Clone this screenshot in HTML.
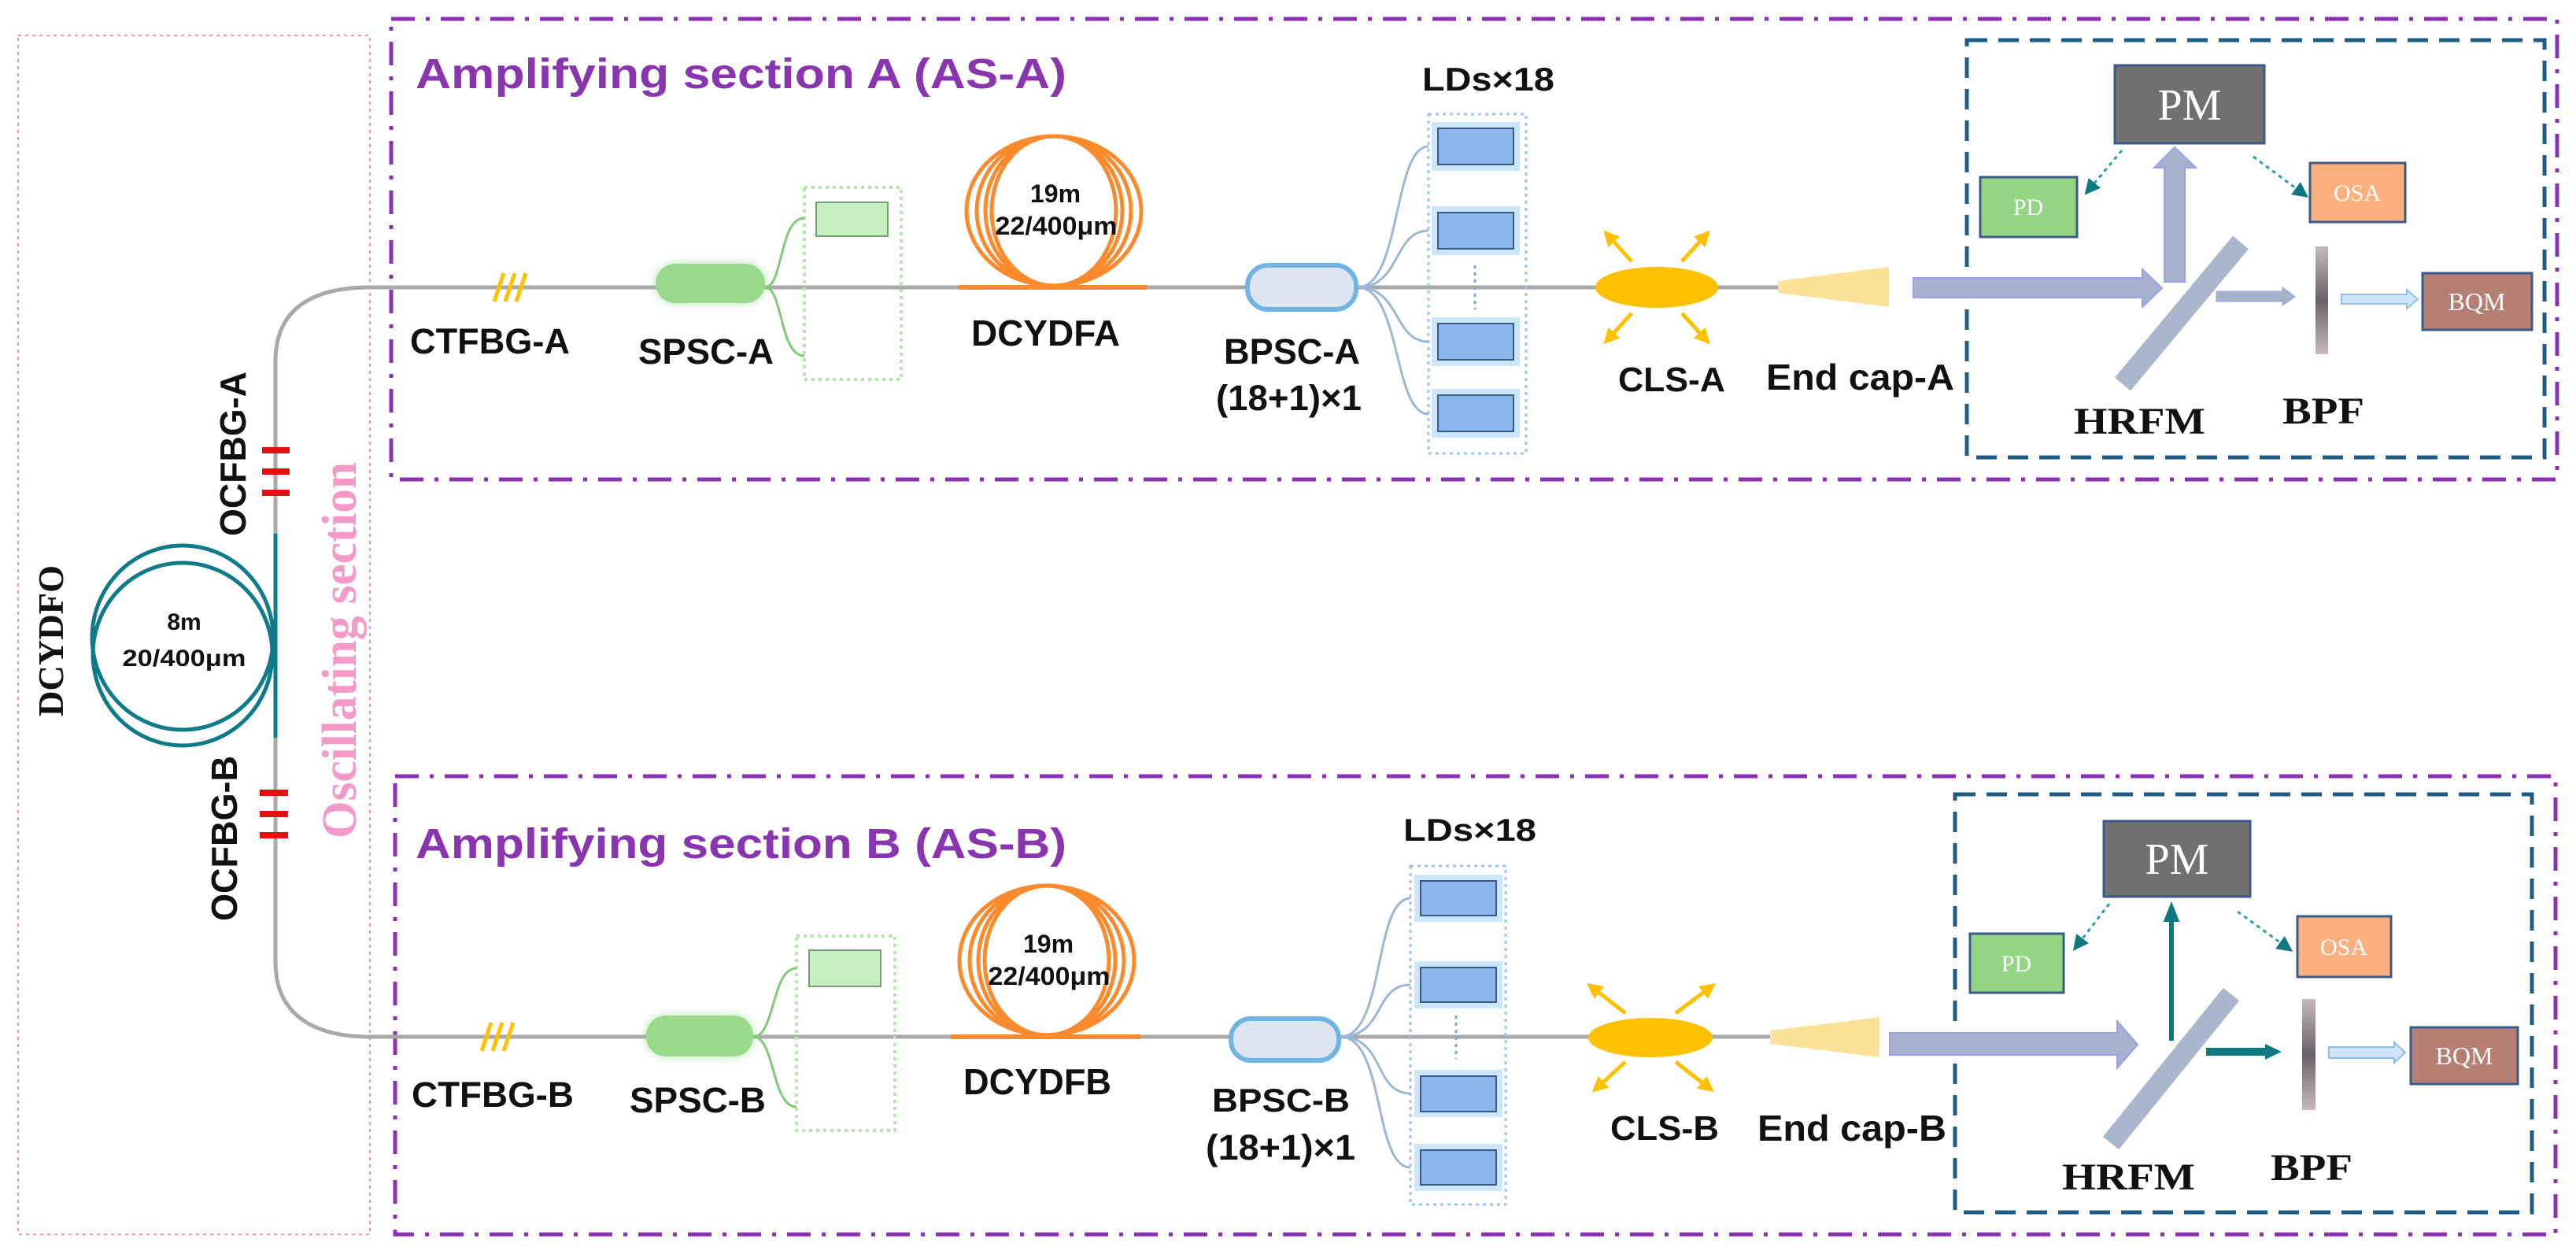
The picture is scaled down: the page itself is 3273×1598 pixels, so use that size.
<!DOCTYPE html>
<html><head><meta charset="utf-8"><style>
html,body{margin:0;padding:0;background:#fff;}
svg{display:block;}
.sb{font-family:"Liberation Sans",sans-serif;font-weight:bold;}
.sf{font-family:"Liberation Serif",serif;}
</style></head><body>
<svg width="3273" height="1598" viewBox="0 0 3273 1598" xmlns="http://www.w3.org/2000/svg">
<defs>
<marker id="ya" viewBox="0 0 10 10" refX="5" refY="5" markerWidth="4" markerHeight="4" orient="auto"><path d="M0,0 L10,5 L0,10 z" fill="#ffc000"/></marker>
<marker id="ta" viewBox="0 0 10 10" refX="5" refY="5" markerUnits="userSpaceOnUse" markerWidth="20" markerHeight="20" orient="auto"><path d="M0,0 L10,5 L0,10 z" fill="#0e7a80"/></marker>
<marker id="tb" viewBox="0 0 10 10" refX="5" refY="5" markerUnits="userSpaceOnUse" markerWidth="26" markerHeight="26" orient="auto"><path d="M0,1 L10,5 L0,9 z" fill="#0e7a80"/></marker>
<linearGradient id="bpf" x1="0" y1="0" x2="0" y2="1"><stop offset="0" stop-color="#c9b8c0"/><stop offset="0.5" stop-color="#6e5f68"/><stop offset="1" stop-color="#c9b8c0"/></linearGradient>
<filter id="glow" x="-30%" y="-50%" width="160%" height="200%"><feGaussianBlur stdDeviation="6"/></filter>
</defs>

<rect x="23" y="45" width="447" height="1523" fill="none" stroke="#f48fbf" stroke-width="2" stroke-dasharray="4,5"/>
<rect x="497" y="24" width="2752" height="585" fill="none" stroke="#8b32b4" stroke-width="5" stroke-dasharray="30,14,5,14"/>
<rect x="502" y="986" width="2745" height="582" fill="none" stroke="#8b32b4" stroke-width="5" stroke-dasharray="30,14,5,14"/>
<rect x="2499" y="51" width="734" height="530" fill="none" stroke="#1d5c86" stroke-width="5" stroke-dasharray="26,14"/>
<rect x="2484" y="1009" width="733" height="531" fill="none" stroke="#1d5c86" stroke-width="5" stroke-dasharray="26,14"/>

<text x="528" y="112" class="sb" font-size="54" fill="#8a35b0" textLength="827" lengthAdjust="spacingAndGlyphs">Amplifying section A (AS-A)</text>
<text x="528" y="1090" class="sb" font-size="54" fill="#8a35b0" textLength="827" lengthAdjust="spacingAndGlyphs">Amplifying section B (AS-B)</text>

<path d="M470,365 C400,365 350,390 350,459 L350,678" fill="none" stroke="#a9a9a9" stroke-width="5"/>
<path d="M350,678 L350,937" fill="none" stroke="#0e7a8a" stroke-width="5"/>
<path d="M350,937 L350,1222 C350,1290 400,1317 470,1317" fill="none" stroke="#a9a9a9" stroke-width="5"/>
<ellipse cx="232" cy="810" rx="115" ry="117" fill="none" stroke="#0e7a8a" stroke-width="5"/>
<ellipse cx="232" cy="831" rx="114" ry="116" fill="none" stroke="#0e7a8a" stroke-width="5"/>
<text x="234" y="800" class="sb" font-size="30" text-anchor="middle" fill="#111">8m</text>
<text x="234" y="846" class="sb" font-size="30" text-anchor="middle" fill="#111" textLength="157" lengthAdjust="spacingAndGlyphs">20/400μm</text>
<g stroke="#e31010" stroke-width="8">
<line x1="333" y1="572" x2="368" y2="572"/><line x1="333" y1="599" x2="368" y2="599"/><line x1="333" y1="626" x2="368" y2="626"/>
<line x1="330" y1="1007" x2="366" y2="1007"/><line x1="330" y1="1034" x2="366" y2="1034"/><line x1="330" y1="1061" x2="366" y2="1061"/>
</g>
<text transform="translate(312,681) rotate(-90)" class="sb" font-size="46" fill="#111" textLength="209" lengthAdjust="spacingAndGlyphs">OCFBG-A</text>
<text transform="translate(301,1170) rotate(-90)" class="sb" font-size="46" fill="#111" textLength="210" lengthAdjust="spacingAndGlyphs">OCFBG-B</text>
<text transform="translate(80,910) rotate(-90)" class="sf" font-weight="bold" font-size="46" fill="#111" textLength="192" lengthAdjust="spacingAndGlyphs">DCYDFO</text>
<text transform="translate(452,1065) rotate(-90)" class="sf" font-weight="bold" font-size="62" fill="#f49ac9" textLength="478" lengthAdjust="spacingAndGlyphs">Oscillating section</text>

<!-- Section A -->
<line x1="465" y1="365" x2="2260" y2="365" stroke="#a9a9a9" stroke-width="5"/>
<g stroke="#ffc000" stroke-width="5"><line x1="640" y1="347" x2="628" y2="383"/><line x1="654" y1="347" x2="642" y2="383"/><line x1="668" y1="347" x2="656" y2="383"/></g>
<text x="521" y="449" class="sb" font-size="45" fill="#111" textLength="203" lengthAdjust="spacingAndGlyphs">CTFBG-A</text>
<rect x="833" y="335" width="139" height="50" rx="25" fill="#93d68a" filter="url(#glow)" opacity="0.7"/>
<rect x="833" y="335" width="139" height="50" rx="25" fill="#98d98c"/>
<text x="811" y="462" class="sb" font-size="45" fill="#111" textLength="172" lengthAdjust="spacingAndGlyphs">SPSC-A</text>
<rect x="1022" y="238" width="123" height="244" fill="none" stroke="#b5e6ad" stroke-width="4" stroke-dasharray="4,5"/>
<rect x="1037" y="257" width="91" height="43" fill="#c6efbf" stroke="#7a9a7a" stroke-width="2"/>
<path d="M972,365 C995,365 990,277 1022,277 M972,365 C995,365 990,452 1022,452" fill="none" stroke="#7fcb78" stroke-width="3"/>
<g fill="none" stroke="#fb8a2c" stroke-width="5">
<ellipse cx="1339" cy="268" rx="111" ry="95"/><ellipse cx="1339" cy="268" rx="98" ry="95"/><ellipse cx="1339" cy="268" rx="87" ry="95"/><ellipse cx="1339" cy="268" rx="79" ry="95"/>
</g>
<line x1="1218" y1="365" x2="1458" y2="365" stroke="#fb8a2c" stroke-width="6"/>
<text x="1341" y="257" class="sb" font-size="32" text-anchor="middle" fill="#111">19m</text>
<text x="1342" y="298" class="sb" font-size="32" text-anchor="middle" fill="#111" textLength="155" lengthAdjust="spacingAndGlyphs">22/400μm</text>
<text x="1234" y="439" class="sb" font-size="46" fill="#111" textLength="189" lengthAdjust="spacingAndGlyphs">DCYDFA</text>
<rect x="1585" y="337" width="138" height="56" rx="26" fill="#dde6f0" stroke="#6fb4e4" stroke-width="6"/>
<text x="1555" y="462" class="sb" font-size="45" fill="#111" textLength="173" lengthAdjust="spacingAndGlyphs">BPSC-A</text>
<text x="1545" y="521" class="sb" font-size="45" fill="#111" textLength="185" lengthAdjust="spacingAndGlyphs">(18+1)×1</text>
<text x="1807" y="115" class="sb" font-size="42" fill="#111" textLength="168" lengthAdjust="spacingAndGlyphs">LDs×18</text>
<rect x="1815" y="145" width="124" height="431" fill="none" stroke="#9cc5ee" stroke-width="3" stroke-dasharray="4,5"/>
<g fill="#8bb5ec" stroke="#3a5a86" stroke-width="2">
<rect x="1819" y="155" width="112" height="62" fill="#bfe0fb" stroke="none" opacity="0.8"/>
<rect x="1827" y="163" width="96" height="46"/>
<rect x="1819" y="262" width="112" height="62" fill="#bfe0fb" stroke="none" opacity="0.8"/>
<rect x="1827" y="270" width="96" height="46"/>
<rect x="1819" y="403" width="112" height="62" fill="#bfe0fb" stroke="none" opacity="0.8"/>
<rect x="1827" y="411" width="96" height="46"/>
<rect x="1819" y="494" width="112" height="62" fill="#bfe0fb" stroke="none" opacity="0.8"/>
<rect x="1827" y="502" width="96" height="46"/>
</g>
<line x1="1874" y1="337" x2="1874" y2="393" stroke="#7aa6dc" stroke-width="3" stroke-dasharray="4,5"/>
<path d="M1725,365 C1780,365 1770,186 1815,186 M1725,365 C1780,365 1770,293 1815,293 M1725,365 C1780,365 1770,434 1815,434 M1725,365 C1780,365 1770,526 1815,526" fill="none" stroke="#9db6d6" stroke-width="3"/>
<ellipse cx="2105" cy="365" rx="78" ry="26" fill="#ffc000"/>
<g stroke="#ffc000" stroke-width="5" marker-end="url(#ya)">
<line x1="2073" y1="332" x2="2044" y2="300"/><line x1="2137" y1="332" x2="2166" y2="300"/>
<line x1="2073" y1="398" x2="2044" y2="430"/><line x1="2137" y1="398" x2="2166" y2="430"/>
</g>
<text x="2056" y="497" class="sb" font-size="44" fill="#111" textLength="136" lengthAdjust="spacingAndGlyphs">CLS-A</text>
<polygon points="2259,357 2400,339 2400,390 2259,372" fill="#fde39a"/>
<text x="2244" y="495" class="sb" font-size="46" fill="#111" textLength="239" lengthAdjust="spacingAndGlyphs">End cap-A</text>
<polygon points="2431,353 2722,353 2722,342 2747,366 2722,390 2722,378 2431,378" fill="#a4b2cb" stroke="#9b9ee8" stroke-width="2"/>
<polygon points="2750,358 2750,213 2737,213 2763,187 2790,213 2776,213 2776,358" fill="#a4b2cb" stroke="#9b9ee8" stroke-width="2"/>
<line x1="2697" y1="488" x2="2847" y2="308" stroke="#a9b7cc" stroke-width="26"/>
<polygon points="2816,370 2900,370 2900,365 2916,377 2900,388 2900,383 2816,383" fill="#a4b2cb" stroke="#9b9ee8" stroke-width="1"/>
<rect x="2942" y="313" width="16" height="137" fill="url(#bpf)"/>
<polygon points="2975,374 3058,374 3058,368 3072,380 3058,392 3058,386 2975,386" fill="#cfe5fa" stroke="#8dbde8" stroke-width="2"/>
<rect x="2687" y="83" width="190" height="99" fill="#707070" stroke="#3a5a8a" stroke-width="3"/>
<text x="2782" y="152" class="sf" font-size="56" fill="#fff" text-anchor="middle">PM</text>
<rect x="2516" y="225" width="123" height="76" fill="#95d685" stroke="#3a5a8a" stroke-width="3"/>
<text x="2577" y="273" class="sf" font-size="30" fill="#fff" text-anchor="middle">PD</text>
<rect x="2935" y="207" width="121" height="75" fill="#fdb07e" stroke="#3a5a8a" stroke-width="3"/>
<text x="2995" y="255" class="sf" font-size="30" fill="#fff" text-anchor="middle">OSA</text>
<rect x="3078" y="347" width="139" height="72" fill="#b57f73" stroke="#3a5a8a" stroke-width="3"/>
<text x="3147" y="394" class="sf" font-size="32" fill="#fff" text-anchor="middle">BQM</text>
<g stroke="#2aa0a8" stroke-width="3" stroke-dasharray="5,5"><line x1="2696" y1="191" x2="2655" y2="240" marker-end="url(#ta)"/><line x1="2863" y1="199" x2="2925" y2="245" marker-end="url(#ta)"/></g>
<text x="2635" y="551" class="sf" font-weight="bold" font-size="48" fill="#111" textLength="167" lengthAdjust="spacingAndGlyphs">HRFM</text>
<text x="2900" y="538" class="sf" font-weight="bold" font-size="48" fill="#111" textLength="104" lengthAdjust="spacingAndGlyphs">BPF</text>

<!-- Section B -->
<line x1="465" y1="1317" x2="2250" y2="1317" stroke="#a9a9a9" stroke-width="5"/>
<g stroke="#ffc000" stroke-width="5"><line x1="624" y1="1299" x2="612" y2="1335"/><line x1="638" y1="1299" x2="626" y2="1335"/><line x1="652" y1="1299" x2="640" y2="1335"/></g>
<text x="523" y="1406" class="sb" font-size="45" fill="#111" textLength="206" lengthAdjust="spacingAndGlyphs">CTFBG-B</text>
<rect x="821" y="1290" width="136" height="52" rx="25" fill="#93d68a" filter="url(#glow)" opacity="0.7"/>
<rect x="821" y="1290" width="136" height="52" rx="25" fill="#98d98c"/>
<text x="800" y="1413" class="sb" font-size="45" fill="#111" textLength="173" lengthAdjust="spacingAndGlyphs">SPSC-B</text>
<rect x="1012" y="1189" width="125" height="247" fill="none" stroke="#b5e6ad" stroke-width="4" stroke-dasharray="4,5"/>
<rect x="1028" y="1207" width="91" height="46" fill="#c6efbf" stroke="#7a9a7a" stroke-width="2"/>
<path d="M957,1317 C985,1317 980,1230 1012,1230 M957,1317 C985,1317 980,1406 1012,1406" fill="none" stroke="#7fcb78" stroke-width="3"/>
<g fill="none" stroke="#fb8a2c" stroke-width="5">
<ellipse cx="1330" cy="1220" rx="111" ry="95"/><ellipse cx="1330" cy="1220" rx="98" ry="95"/><ellipse cx="1330" cy="1220" rx="87" ry="95"/><ellipse cx="1330" cy="1220" rx="79" ry="95"/>
</g>
<line x1="1208" y1="1317" x2="1449" y2="1317" stroke="#fb8a2c" stroke-width="6"/>
<text x="1332" y="1210" class="sb" font-size="32" text-anchor="middle" fill="#111">19m</text>
<text x="1333" y="1251" class="sb" font-size="32" text-anchor="middle" fill="#111" textLength="155" lengthAdjust="spacingAndGlyphs">22/400μm</text>
<text x="1224" y="1390" class="sb" font-size="46" fill="#111" textLength="188" lengthAdjust="spacingAndGlyphs">DCYDFB</text>
<rect x="1564" y="1294" width="137" height="53" rx="25" fill="#dde6f0" stroke="#6fb4e4" stroke-width="6"/>
<text x="1540" y="1412" class="sb" font-size="42" fill="#111" textLength="175" lengthAdjust="spacingAndGlyphs">BPSC-B</text>
<text x="1532" y="1473" class="sb" font-size="45" fill="#111" textLength="190" lengthAdjust="spacingAndGlyphs">(18+1)×1</text>
<text x="1783" y="1068" class="sb" font-size="40" fill="#111" textLength="169" lengthAdjust="spacingAndGlyphs">LDs×18</text>
<rect x="1792" y="1100" width="121" height="430" fill="none" stroke="#9cc5ee" stroke-width="3" stroke-dasharray="4,5"/>
<g fill="#8bb5ec" stroke="#3a5a86" stroke-width="2">
<rect x="1797" y="1111" width="112" height="60" fill="#bfe0fb" stroke="none" opacity="0.8"/>
<rect x="1805" y="1119" width="96" height="44"/>
<rect x="1797" y="1221" width="112" height="60" fill="#bfe0fb" stroke="none" opacity="0.8"/>
<rect x="1805" y="1229" width="96" height="44"/>
<rect x="1797" y="1359" width="112" height="60" fill="#bfe0fb" stroke="none" opacity="0.8"/>
<rect x="1805" y="1367" width="96" height="45"/>
<rect x="1797" y="1453" width="112" height="60" fill="#bfe0fb" stroke="none" opacity="0.8"/>
<rect x="1805" y="1461" width="96" height="44"/>
</g>
<line x1="1850" y1="1290" x2="1850" y2="1345" stroke="#7aa6dc" stroke-width="3" stroke-dasharray="4,5"/>
<path d="M1703,1317 C1760,1317 1745,1141 1792,1141 M1703,1317 C1760,1317 1745,1251 1792,1251 M1703,1317 C1760,1317 1745,1389 1792,1389 M1703,1317 C1760,1317 1745,1483 1792,1483" fill="none" stroke="#9db6d6" stroke-width="3"/>
<ellipse cx="2097" cy="1318" rx="79" ry="25" fill="#ffc000"/>
<g stroke="#ffc000" stroke-width="5" marker-end="url(#ya)">
<line x1="2065" y1="1287" x2="2024" y2="1255"/><line x1="2129" y1="1287" x2="2172" y2="1255"/>
<line x1="2065" y1="1349" x2="2030" y2="1381"/><line x1="2129" y1="1349" x2="2170" y2="1381"/>
</g>
<text x="2046" y="1448" class="sb" font-size="44" fill="#111" textLength="138" lengthAdjust="spacingAndGlyphs">CLS-B</text>
<polygon points="2249,1309 2388,1292 2388,1343 2249,1326" fill="#fde39a"/>
<text x="2233" y="1449" class="sb" font-size="46" fill="#111" textLength="240" lengthAdjust="spacingAndGlyphs">End cap-B</text>
<polygon points="2401,1312 2690,1312 2690,1297 2716,1327 2690,1357 2690,1340 2401,1340" fill="#a4b2cb" stroke="#9b9ee8" stroke-width="2"/>
<line x1="2682" y1="1452" x2="2835" y2="1263" stroke="#a9b7cc" stroke-width="26"/>
<line x1="2759" y1="1322" x2="2759" y2="1158" stroke="#0e7a80" stroke-width="6" marker-end="url(#tb)"/>
<line x1="2803" y1="1336" x2="2880" y2="1336" stroke="#0e7a80" stroke-width="10"/>
<polygon points="2878,1326 2899,1336 2878,1346" fill="#0e7a80"/>
<rect x="2925" y="1269" width="17" height="141" fill="url(#bpf)"/>
<polygon points="2959,1330 3042,1330 3042,1324 3056,1337 3042,1350 3042,1344 2959,1344" fill="#cfe5fa" stroke="#8dbde8" stroke-width="2"/>
<rect x="2673" y="1043" width="186" height="96" fill="#707070" stroke="#3a5a8a" stroke-width="3"/>
<text x="2766" y="1110" class="sf" font-size="56" fill="#fff" text-anchor="middle">PM</text>
<rect x="2503" y="1186" width="119" height="75" fill="#95d685" stroke="#3a5a8a" stroke-width="3"/>
<text x="2562" y="1234" class="sf" font-size="30" fill="#fff" text-anchor="middle">PD</text>
<rect x="2919" y="1164" width="119" height="77" fill="#fdb07e" stroke="#3a5a8a" stroke-width="3"/>
<text x="2978" y="1213" class="sf" font-size="30" fill="#fff" text-anchor="middle">OSA</text>
<rect x="3063" y="1305" width="136" height="72" fill="#b57f73" stroke="#3a5a8a" stroke-width="3"/>
<text x="3131" y="1352" class="sf" font-size="32" fill="#fff" text-anchor="middle">BQM</text>
<g stroke="#2aa0a8" stroke-width="3" stroke-dasharray="5,5"><line x1="2680" y1="1148" x2="2640" y2="1200" marker-end="url(#ta)"/><line x1="2843" y1="1158" x2="2905" y2="1203" marker-end="url(#ta)"/></g>
<text x="2620" y="1511" class="sf" font-weight="bold" font-size="48" fill="#111" textLength="169" lengthAdjust="spacingAndGlyphs">HRFM</text>
<text x="2885" y="1499" class="sf" font-weight="bold" font-size="48" fill="#111" textLength="104" lengthAdjust="spacingAndGlyphs">BPF</text>
</svg>
</body></html>
